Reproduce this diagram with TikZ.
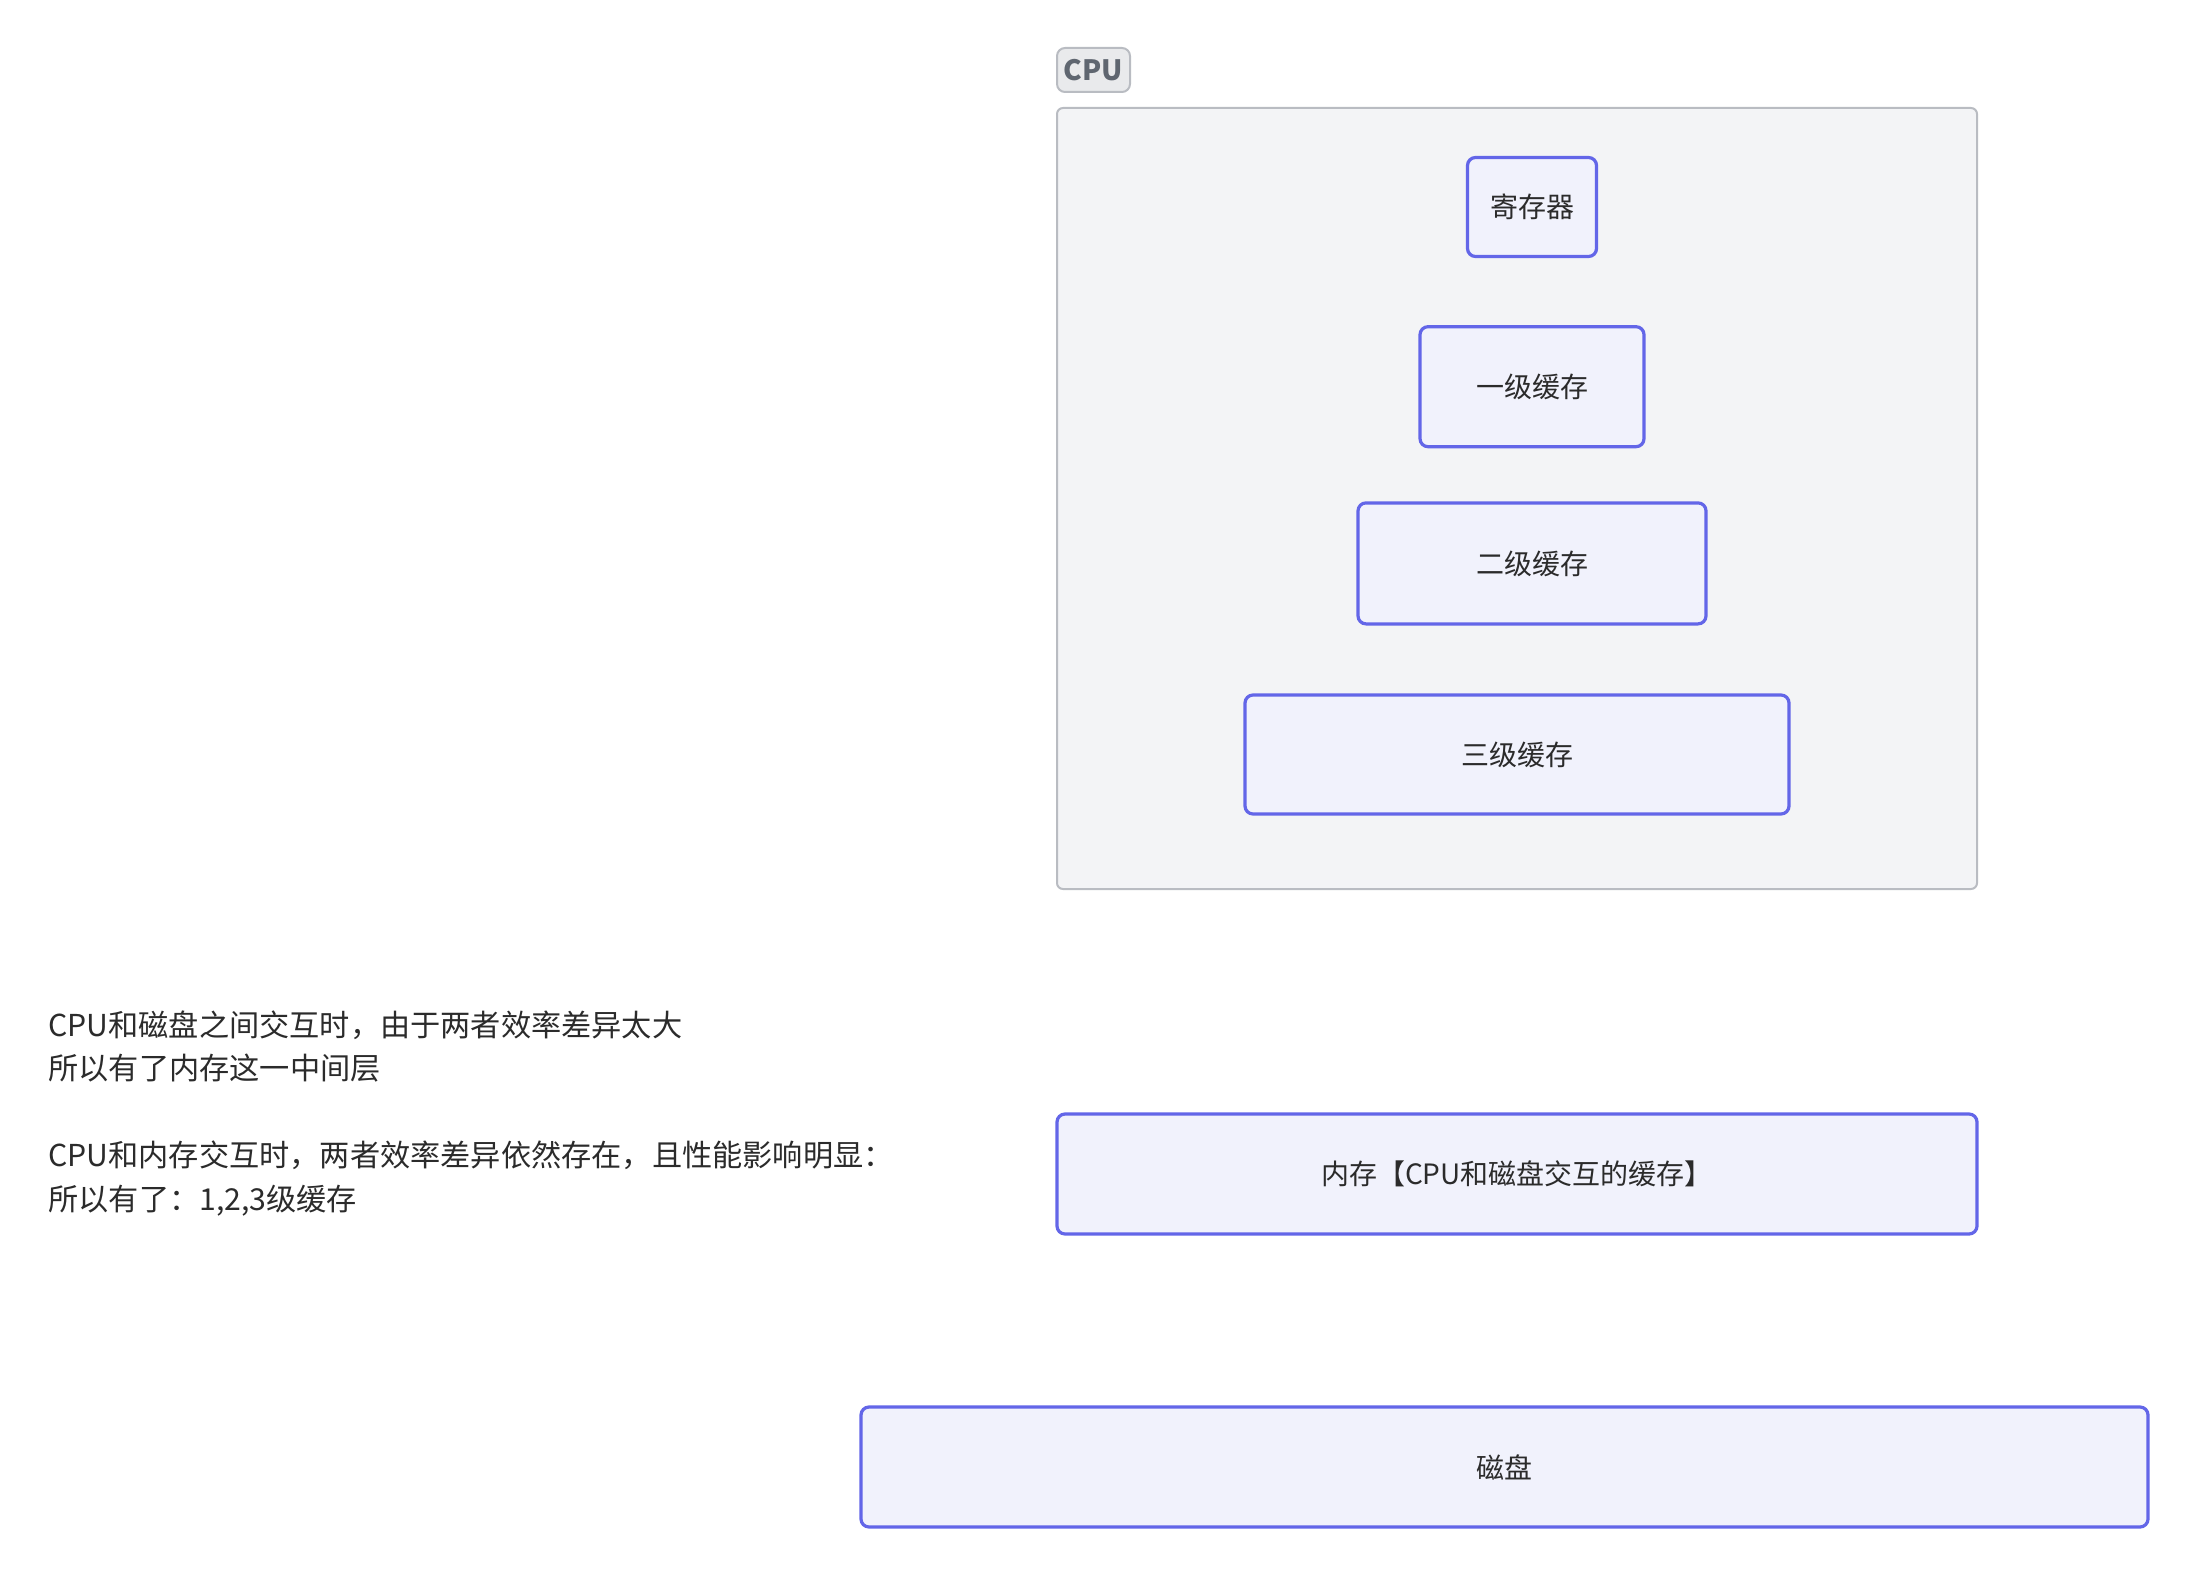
\documentclass[tikz,border=0pt]{standalone}
\usepackage{fontspec}
\setmainfont{Noto Sans CJK SC}
\usepackage{xcolor}
\definecolor{cLine}{HTML}{6366E8}
\definecolor{cFill}{HTML}{F1F2FC}
\definecolor{cGroup}{HTML}{F3F4F6}
\definecolor{cGroupLine}{HTML}{B9BCC2}
\definecolor{cTag}{HTML}{E9EAEC}
\definecolor{cTagText}{HTML}{5F6670}
\definecolor{cText}{HTML}{2B2B2B}
\usepackage{tikz}
\usetikzlibrary{positioning}
\tikzset{
  node-box/.style={draw=cLine,line width=1.6pt,fill=cFill,rounded corners=4pt,
    align=center,text=cText,font=\fontsize{14}{17}\selectfont,inner sep=0pt},
  node-group/.style={draw=cGroupLine,line width=1pt,fill=cGroup,rounded corners=3pt,
    inner sep=0pt},
  node-tag/.style={draw=cGroupLine,line width=1pt,fill=cTag,rounded corners=4pt,
    text=cTagText,font=\fontsize{14}{17}\selectfont\bfseries,inner sep=0pt},
  node-note/.style={align=left,text=cText,inner sep=0pt,
    font=\fontsize{15.1}{21.75}\selectfont},
}

\begin{document}
\begin{tikzpicture}[x=0.5pt,y=-0.5pt]
  \useasboundingbox (0,0) rectangle (2198,1578);
  % CPU group
  \node[node-group,minimum width=460pt,minimum height=390.5pt] (cpu) at (1517,498.5) {};
  \node[node-tag,minimum width=36.5pt,minimum height=22pt] (cputag) at (1093.5,70) {CPU};
  \node[node-box,minimum width=64.5pt,minimum height=49.5pt] (reg) at (1532,207) {寄存器};
  \node[node-box,minimum width=112pt,minimum height=60pt,below=33.5pt of reg] (l1) {一级缓存};
  \node[node-box,minimum width=174pt,minimum height=60.5pt,below=26.5pt of l1] (l2) {二级缓存};
  \node[node-box,minimum width=272pt,minimum height=59.5pt] (l3) at (1517,754.5) {三级缓存};
  % memory and disk
  \node[node-box,minimum width=460pt,minimum height=60pt] (mem) at (1517,1174) {内存【CPU和磁盘交互的缓存】};
  \node[node-box,minimum width=643.5pt,minimum height=60pt] (disk) at (1504.5,1467) {磁盘};
  % note
  \node[node-note,anchor=west] (note) at (48,1113.5)
    {CPU和磁盘之间交互时，由于两者效率差异太大\\
     所以有了内存这一中间层\\[21.75pt]
     CPU和内存交互时，两者效率差异依然存在，且性能影响明显：\\
     所以有了：1,2,3级缓存};
\end{tikzpicture}
\end{document}
